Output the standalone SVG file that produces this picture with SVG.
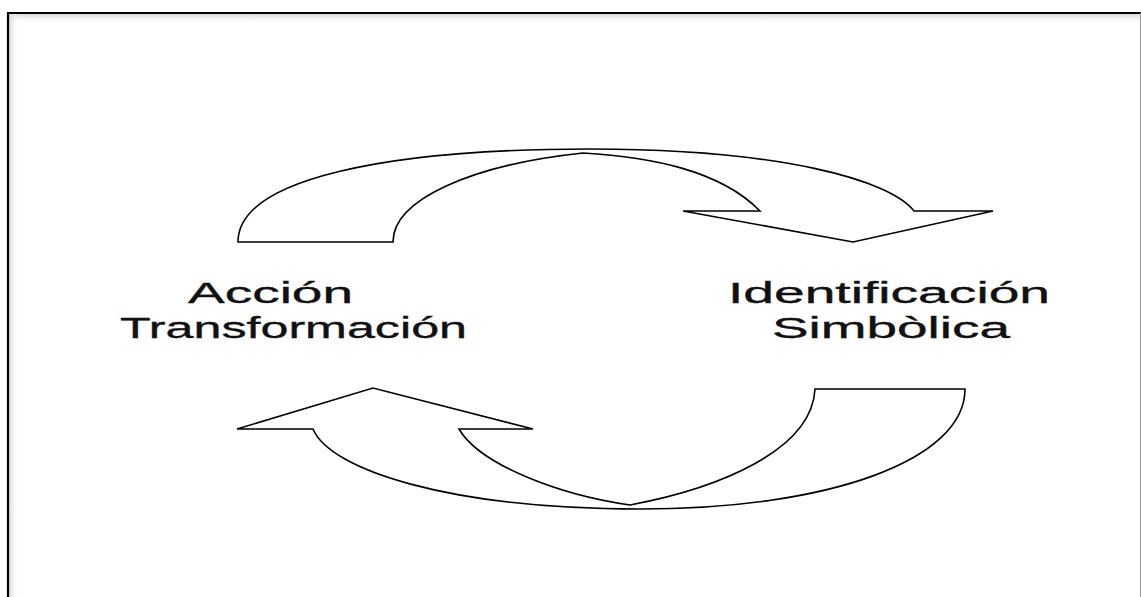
<svg xmlns="http://www.w3.org/2000/svg" width="1141" height="597" viewBox="0 0 1141 597">
<defs>
<linearGradient id="shT" x1="0" y1="0" x2="0" y2="1"><stop offset="0" stop-color="#d8d8d8"/><stop offset="1" stop-color="#ffffff" stop-opacity="0"/></linearGradient>
<linearGradient id="shL" x1="0" y1="0" x2="1" y2="0"><stop offset="0" stop-color="#d8d8d8"/><stop offset="1" stop-color="#ffffff" stop-opacity="0"/></linearGradient>
<style>
.arrow{fill:#fff;stroke:#000;stroke-width:1.6;stroke-linejoin:miter}
.lbl{font-family:"Liberation Sans",Arial,sans-serif;font-size:30px;fill:#111;stroke:#111;stroke-width:0.35}
</style>
</defs>
<rect x="0" y="0" width="1141" height="597" fill="#fff"/>
<g id="frame">
<rect x="9" y="14" width="1131" height="10" fill="url(#shT)"/>
<rect x="9" y="14" width="10" height="583" fill="url(#shL)"/>
<line x1="8" y1="13" x2="1141" y2="13" stroke="#000" stroke-width="2.2"/>
<line x1="8" y1="12" x2="8" y2="597" stroke="#000" stroke-width="2.2"/>
<line x1="1140.5" y1="13" x2="1140.5" y2="597" stroke="#999" stroke-width="1"/>
</g>
<g id="connectors">
<path id="arrow-top" class="arrow" d="M238 242 C238 178 390 149 590 149 C780 149 890 180 914 211 L993 211 L853 242 L683 211 L760 211 C720 170 650 157 583 153 C470 165 393 200 393 242 Z"/>
<path id="arrow-bottom" class="arrow" d="M237 429 L373 388 L533 429 L459 429 C480 465 560 495 630 505 C720 488 812 450 815 389 L965 389 C965 460 830 509 640 509 C450 509 330 470 313 429 Z"/>
</g>
<g id="node-accion">
<text class="lbl" x="188" y="303" textLength="165" lengthAdjust="spacingAndGlyphs">Acción</text>
<text class="lbl" x="120" y="338" textLength="347" lengthAdjust="spacingAndGlyphs">Transformación</text>
</g>
<g id="node-identificacion">
<text class="lbl" x="728" y="303" textLength="322" lengthAdjust="spacingAndGlyphs">Identificación</text>
<text class="lbl" x="772" y="338" textLength="238" lengthAdjust="spacingAndGlyphs">Simbòlica</text>
</g>
</svg>
